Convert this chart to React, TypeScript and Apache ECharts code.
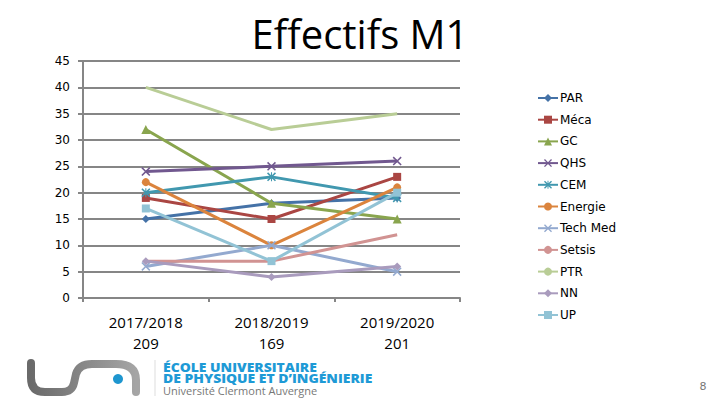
import React, { useEffect, useRef } from "react";
import * as echarts from "echarts";

const categories = ["2017/2018\n209", "2018/2019\n169", "2019/2020\n201"];
const seriesNames = ["PAR", "Méca", "GC", "QHS", "CEM", "Energie", "Tech Med", "Setsis", "PTR", "NN", "UP"];
const PAR = [15, 18, 19];
const Meca = [19, 15, 23];
const GC = [32, 18, 15];
const QHS = [24, 25, 26];
const CEM = [20, 23, 19];
const Energie = [22, 10, 21];
const TechMed = [6, 10, 5];
const Setsis = [7, 7, 12];
const PTR = [40, 32, 35];
const NN = [7, 4, 6];
const UP = [17, 7, 20];
const seriesValues = [PAR, Meca, GC, QHS, CEM, Energie, TechMed, Setsis, PTR, NN, UP];
const colors = ["#4572A7", "#AA4643", "#89A54E", "#71588F", "#4198AF", "#DB843D", "#93A9CF", "#D19392", "#B9CD96", "#A99BBD", "#92C3D5"];

const X_SYM = "path://M0,1.2 L1.2,0 L5,3.8 L8.8,0 L10,1.2 L6.2,5 L10,8.8 L8.8,10 L5,6.2 L1.2,10 L0,8.8 L3.8,5 Z";
const STAR_SYM = "path://M0,1.2 L1.2,0 L5,3.8 L8.8,0 L10,1.2 L6.2,5 L10,8.8 L8.8,10 L5,6.2 L1.2,10 L0,8.8 L3.8,5 Z M4.4,0 L5.6,0 L5.6,10 L4.4,10 Z";
const symbols = ["diamond", "rect", "triangle", X_SYM, STAR_SYM, "circle", X_SYM, "none", "none", "diamond", "rect"];
const symbolSizes = [8, 8, 9, 9, 9, 8, 9, 0, 0, 8, 8];

const LOGO_D = "M31 363 L31 378 Q31 392 45 392 L62 392 Q72 392 74 383 L76 374 Q79 364 92 364 L116 364 Q136 364 136 380 L136 392";

export default function App() {
  const ref = useRef<HTMLDivElement>(null);
  useEffect(() => {
    document.body.style.margin = "0";
    try {
      echarts.graphic.registerShape("ucaLogo", echarts.graphic.extendPath(LOGO_D, {}));
    } catch (e) {}
    const chart = echarts.init(ref.current!, null, { renderer: "svg" });
    chart.setOption({
      animation: false,
      backgroundColor: "#ffffff",
      legend: {
        orient: "vertical",
        left: 532,
        top: 87,
        itemWidth: 20,
        itemHeight: 10,
        itemGap: 9.7,
        data: seriesNames,
        textStyle: { fontFamily: "DejaVu Sans", fontSize: 12, lineHeight: 12, color: "#000", padding: [0, 0, 0, -3] },
      },
      grid: { left: 83, right: 260, top: 61, bottom: 107, containLabel: false },
      xAxis: {
        type: "category",
        data: categories,
        boundaryGap: true,
        axisLine: { lineStyle: { color: "#868686", width: 2 } },
        axisTick: { show: true, length: 4, lineStyle: { color: "#868686", width: 2 } },
        axisLabel: { fontFamily: "Open Sans", fontSize: 15, color: "#000", lineHeight: 21, margin: 13 },
      },
      yAxis: {
        type: "value",
        min: 0,
        max: 45,
        interval: 5,
        axisLine: { show: true, lineStyle: { color: "#868686", width: 2 } },
        axisTick: { show: true, length: 5, lineStyle: { color: "#868686", width: 2 } },
        splitLine: { lineStyle: { color: "#868686", width: 2 } },
        axisLabel: { fontFamily: "DejaVu Sans", fontSize: 12, color: "#000", margin: 13 },
      },
      series: seriesNames.map((name, i) => ({
        name,
        type: "line",
        data: seriesValues[i],
        symbol: symbols[i],
        symbolSize: symbolSizes[i],
        showSymbol: symbols[i] !== "none",
        lineStyle: { color: colors[i], width: 3 },
        itemStyle: { color: colors[i] },
        z: 2 + i,
      })),
      graphic: [
        {
          type: "text",
          x: 360,
          y: 33,
          style: {
            text: "Effectifs M1",
            fontFamily: "Open Sans",
            fontSize: 40,
            fill: "#000",
            align: "center",
            verticalAlign: "middle",
          },
        },
        {
          type: "ucaLogo",
          x: 0,
          y: 0,
          style: {
            fill: "none",
            stroke: new echarts.graphic.LinearGradient(0, 0, 1, 0, [
              { offset: 0, color: "#6a6a6a" },
              { offset: 1, color: "#a5a5a5" },
            ]),
            lineWidth: 8,
            lineCap: "round",
            lineJoin: "round",
          },
        },
        { type: "circle", shape: { cx: 118, cy: 379, r: 5 }, style: { fill: "#1E96CF" } },
        { type: "line", shape: { x1: 155, y1: 360, x2: 155, y2: 396 }, style: { stroke: "#dddddd", lineWidth: 1 } },
        {
          type: "text",
          x: 163,
          y: 367,
          scaleX: 1.16,
          style: { text: "ÉCOLE UNIVERSITAIRE", fontFamily: "Open Sans", fontWeight: 800, fontSize: 12, lineHeight: 11, fill: "#1E9AD6", verticalAlign: "middle" },
        },
        {
          type: "text",
          x: 163,
          y: 378.5,
          scaleX: 1.16,
          style: { text: "DE PHYSIQUE ET D’INGÉNIERIE", fontFamily: "Open Sans", fontWeight: 800, fontSize: 12, lineHeight: 11, fill: "#1E9AD6", verticalAlign: "middle" },
        },
        {
          type: "text",
          x: 163,
          y: 391,
          scaleX: 1.05,
          style: { text: "Université Clermont Auvergne", fontFamily: "Open Sans", fontSize: 10.5, lineHeight: 10, fill: "#777777", verticalAlign: "middle" },
        },
        {
          type: "text",
          x: 703,
          y: 386,
          style: { text: "8", fontFamily: "DejaVu Sans", fontSize: 11, fill: "#777777", align: "center", verticalAlign: "middle" },
        },
      ],
    });
    return () => chart.dispose();
  }, []);
  return <div ref={ref} style={{ width: 720, height: 405 }} />;
}
